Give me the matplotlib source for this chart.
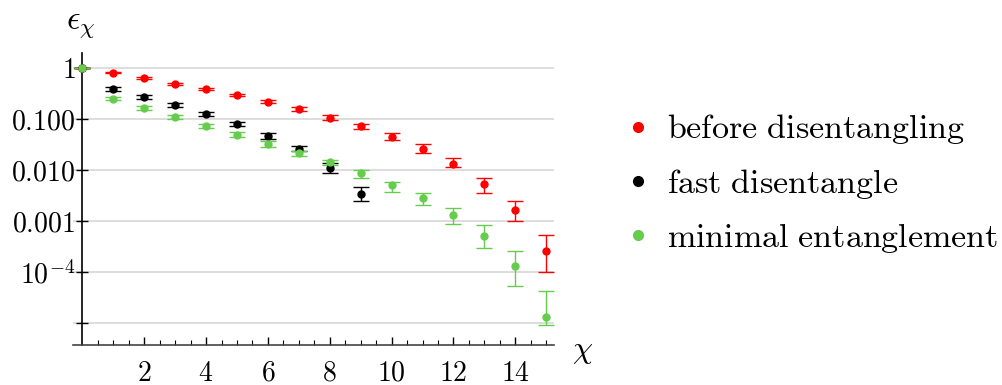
import numpy as np
import matplotlib
matplotlib.use("Agg")
import matplotlib.pyplot as plt
from matplotlib.ticker import FixedLocator, FixedFormatter, NullFormatter

plt.rcParams["mathtext.fontset"] = "cm"
plt.rcParams["font.family"] = ["cmr10", "DejaVu Serif"]

# data (value, lower end, upper end of error bar)
chi_red = np.arange(16)
red_val = [1.0, 0.80, 0.63, 0.49, 0.38, 0.29, 0.215, 0.157, 0.106, 0.071, 0.045, 0.026, 0.0133, 0.0054, 0.00166, 0.00026]
red_lo = [1.0, 0.78, 0.61, 0.47, 0.365, 0.275, 0.20, 0.145, 0.094, 0.063, 0.038, 0.021, 0.0112, 0.0036, 0.00102, 0.0001]
red_hi = [1.0, 0.82, 0.66, 0.51, 0.40, 0.31, 0.23, 0.17, 0.12, 0.079, 0.052, 0.032, 0.0174, 0.0069, 0.0025, 0.00052]

chi_black = np.arange(10)
black_val = [1.0, 0.38, 0.27, 0.186, 0.124, 0.079, 0.046, 0.026, 0.011, 0.0034]
black_lo = [1.0, 0.35, 0.25, 0.17, 0.113, 0.071, 0.040, 0.023, 0.0088, 0.0025]
black_hi = [1.0, 0.42, 0.29, 0.20, 0.135, 0.088, 0.054, 0.029, 0.0135, 0.0046]

chi_green = np.arange(16)
green_val = [1.0, 0.25, 0.16, 0.11, 0.073, 0.049, 0.032, 0.021, 0.014, 0.0087, 0.005, 0.0028, 0.0013, 0.00051, 0.00013, 1.3e-5]
green_lo = [1.0, 0.23, 0.15, 0.10, 0.066, 0.044, 0.028, 0.019, 0.0125, 0.0069, 0.0037, 0.00204, 0.00089, 0.0003, 5.4e-5, 9.3e-6]
green_hi = [1.0, 0.27, 0.175, 0.12, 0.08, 0.055, 0.037, 0.024, 0.0153, 0.0098, 0.0059, 0.0036, 0.00178, 0.00083, 0.00026, 4.3e-5]

labels = ["before disentangling", "fast disentangle", "minimal entanglement"]
colors = ["#ff0000", "#000000", "#66cc4d"]

ytick_vals = [1, 0.1, 0.01, 0.001, 1e-4, 1e-5]
ytick_labels = [r"$1$", r"$0.100$", r"$0.010$", r"$0.001$", r"$10^{-4}$", ""]
xtick_vals = [2, 4, 6, 8, 10, 12, 14]

fig = plt.figure(figsize=(10.02, 3.85), dpi=100)
ax = fig.add_axes([0.0729, 0.1039, 0.4800, 0.7584])
ax.set_yscale("log")

series = [(chi_red, red_val, red_lo, red_hi),
          (chi_black, black_val, black_lo, black_hi),
          (chi_green, green_val, green_lo, green_hi)]
handles = []
for (x, v, lo, hi), c, lab in zip(series, colors, labels):
    v = np.array(v); lo = np.array(lo); hi = np.array(hi)
    eb = ax.errorbar(x, v, yerr=[v - lo, hi - v], fmt="o", color=c, ms=5,
                     elinewidth=1.0, capsize=6, capthick=1.0, zorder=3)
    eb[0].set_label(r"$\mathrm{" + lab.replace(" ", r"\ ") + "}$")
    handles.append(eb[0])

ax.set_xlim(-0.3, 15.25)
ax.set_ylim(10 ** -5.43, 10 ** 0.29)

for yv in ytick_vals:
    ax.axhline(yv, color="#d3d3d3", lw=1.1, zorder=0)

ax.spines["top"].set_visible(False)
ax.spines["right"].set_visible(False)
ax.spines["left"].set_position(("data", 0))
ax.spines["left"].set_linewidth(1.2)
ax.spines["bottom"].set_linewidth(1.2)
ax.spines["bottom"].set_color("#444444")

ax.yaxis.set_major_locator(FixedLocator(ytick_vals))
ax.yaxis.set_major_formatter(FixedFormatter(ytick_labels))
ax.yaxis.set_minor_formatter(NullFormatter())
ax.xaxis.set_major_locator(FixedLocator(xtick_vals))
ax.xaxis.set_minor_locator(FixedLocator(np.arange(0.5, 15.1, 0.5)))
ax.set_xticklabels([r"$%d$" % t for t in xtick_vals])

ax.tick_params(axis="y", which="major", direction="inout", length=8, width=1, labelsize=20, pad=1)
ax.tick_params(axis="y", which="minor", direction="in", length=3.5, width=0.8)
ax.tick_params(axis="x", which="major", direction="in", length=6, width=1, labelsize=20, pad=11)
ax.tick_params(axis="x", which="minor", direction="in", length=3.5, width=0.8)

fig.text(0.0808, 0.935, r"$\epsilon_\chi$", fontsize=24, ha="center", va="center")
fig.text(0.581, 0.086, r"$\chi$", fontsize=23, ha="center", va="center")

fig.legend(handles=handles, loc="upper left", bbox_to_anchor=(0.628, 0.708), frameon=False,
           fontsize=24.5, handlelength=0.5, handletextpad=0.6, labelspacing=0.6,
           borderaxespad=0, borderpad=0, markerscale=1.4)

fig.savefig("out.png", dpi=100)
